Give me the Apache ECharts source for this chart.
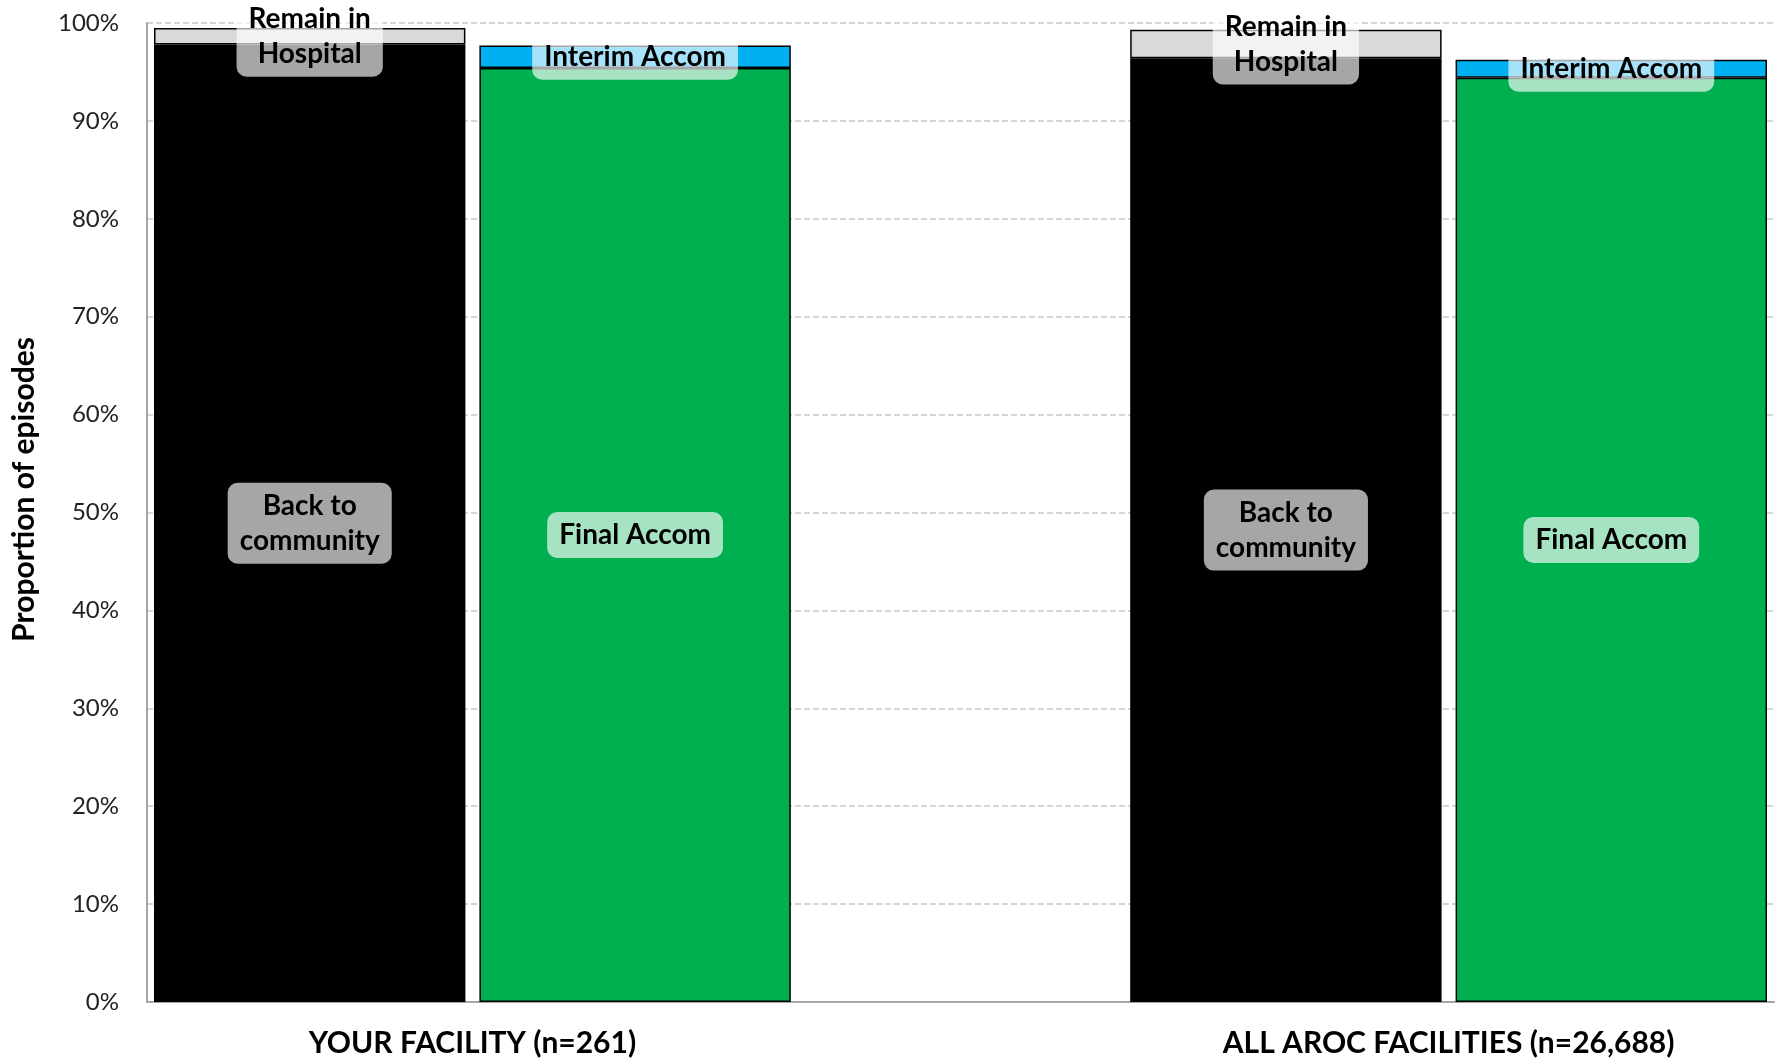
<!DOCTYPE html>
<html>
<head>
<meta charset="utf-8">
<script src="https://cdn.jsdelivr.net/npm/echarts@6/dist/echarts.min.js"></script>
<style>
  html, body { margin: 0; padding: 0; background: #fff; }
  #chart { width: 1777px; height: 1059px; }
</style>
</head>
<body>
<div id="chart"></div>
<script>
// 5 slots: two bars per group, one empty slot between the groups
const slots = ['yourBack', 'yourFinal', 'gap', 'arocBack', 'arocFinal']
const groupLabels = ['', 'YOUR FACILITY (n=261)', '', '', 'ALL AROC FACILITIES (n=26,688)', '']

// values in % of episodes
const backToCommunity = [97.8, '-', '-', 96.4, '-']
const remainInHospital = [1.7, '-', '-', 2.9, '-']
const finalAccom = ['-', 95.4, '-', '-', 94.4]
const interimAccom = ['-', 2.3, '-', '-', 1.85]

const yMin = 0
const yMax = 100
const yStep = 10

const fontFamily = 'Lato, "Noto Sans", sans-serif'

const boxLabel = (text) => ({
  show: true,
  position: 'inside',
  formatter: text,
  color: '#000',
  fontFamily: fontFamily,
  fontWeight: 'bold',
  fontSize: 28,
  lineHeight: 35,
  backgroundColor: 'rgba(255, 255, 255, 0.65)',
  borderRadius: 10,
  padding: [6, 12, 5, 12]
})

const barStyle = (color) => ({
  color: color,
  borderColor: '#000',
  borderWidth: 1.5
})

const chart = echarts.init(document.getElementById('chart'), null, { renderer: 'canvas' })

const option = {
  backgroundColor: '#fff',
  animation: false,
  grid: {
    left: 147,
    width: 1635,
    top: 23,
    bottom: 57,
    containLabel: false
  },
  xAxis: [
    {
      type: 'category',
      data: slots,
      boundaryGap: true,
      axisLine: { show: true, lineStyle: { color: '#a6a6a6', width: 2 } },
      axisTick: { show: false },
      axisLabel: { show: false },
      splitLine: { show: false }
    },
    {
      type: 'category',
      data: groupLabels,
      boundaryGap: false,
      position: 'bottom',
      axisLine: { show: false },
      axisTick: { show: false },
      axisLabel: {
        interval: 0,
        margin: 26,
        color: '#000',
        fontFamily: fontFamily,
        fontWeight: 'bold',
        fontSize: 30
      },
      splitLine: { show: false }
    }
  ],
  yAxis: {
    type: 'value',
    min: yMin,
    max: yMax,
    interval: yStep,
    name: 'Proportion of episodes',
    nameLocation: 'middle',
    nameGap: 108,
    nameTextStyle: {
      color: '#000',
      fontFamily: fontFamily,
      fontWeight: 'bold',
      fontSize: 30,
      padding: [0, 0, 0, 46]
    },
    axisLine: { show: true, lineStyle: { color: '#a6a6a6', width: 2 } },
    axisTick: { show: false },
    axisLabel: {
      formatter: '{value}%',
      margin: 28,
      color: '#222',
      fontFamily: fontFamily,
      fontSize: 24
    },
    splitLine: {
      show: true,
      lineStyle: { color: '#c8c8c8', type: 'dashed', width: 1.5 }
    }
  },
  series: [
    {
      name: 'Back to community',
      type: 'bar',
      stack: 'total',
      data: backToCommunity,
      barCategoryGap: '4.3%',
      itemStyle: barStyle('#000000'),
      label: boxLabel('Back to\ncommunity')
    },
    {
      name: 'Remain in Hospital',
      type: 'bar',
      stack: 'total',
      data: remainInHospital,
      itemStyle: barStyle('#d9d9d9'),
      label: boxLabel('Remain in\nHospital')
    },
    {
      name: 'Final Accom',
      type: 'bar',
      stack: 'total',
      data: finalAccom,
      itemStyle: barStyle('#00b050'),
      label: boxLabel('Final Accom')
    },
    {
      name: 'Interim Accom',
      type: 'bar',
      stack: 'total',
      data: interimAccom,
      itemStyle: barStyle('#00b0f0'),
      label: boxLabel('Interim Accom')
    }
  ]
}

chart.setOption(option)
</script>
</body>
</html>
